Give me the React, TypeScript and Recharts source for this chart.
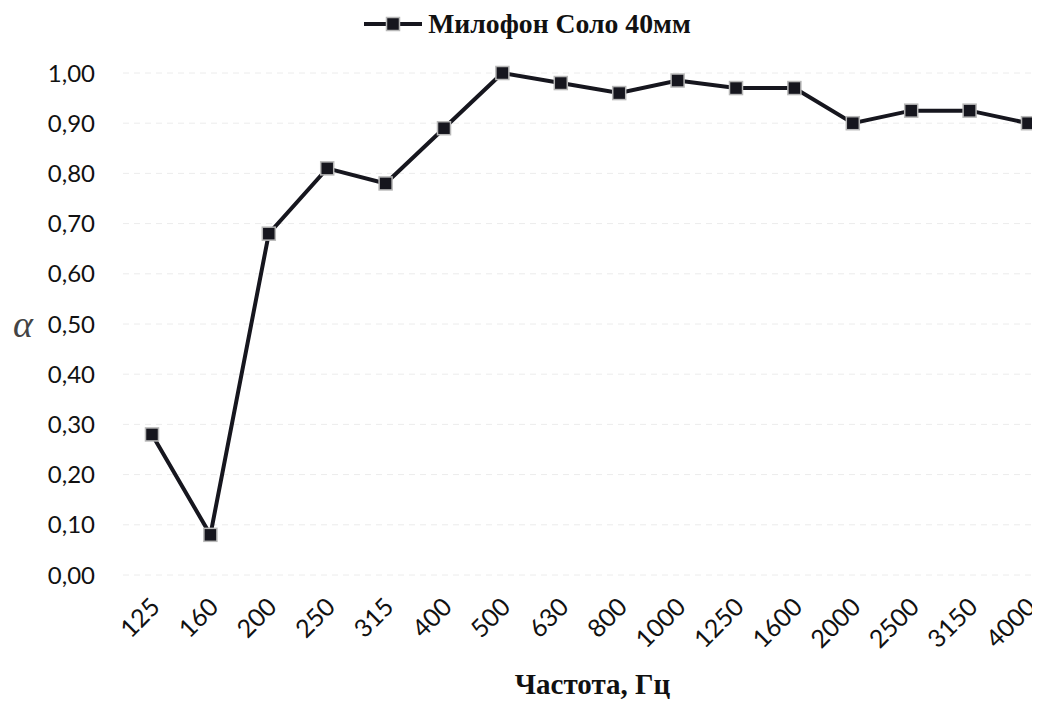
import { LineChart, Line, XAxis, YAxis, CartesianGrid, Legend } from "recharts";

const frequencies = ["125", "160", "200", "250", "315", "400", "500", "630", "800", "1000", "1250", "1600", "2000", "2500", "3150", "4000"];
const alphaValues = [0.28, 0.08, 0.68, 0.81, 0.78, 0.89, 1.0, 0.98, 0.96, 0.985, 0.97, 0.97, 0.9, 0.925, 0.925, 0.9];
const yTicks = [0, 0.1, 0.2, 0.3, 0.4, 0.5, 0.6, 0.7, 0.8, 0.9, 1.0];
const seriesName = "Милофон Соло 40мм";

const data = frequencies.map((f, i) => ({ freq: f, alpha: alphaValues[i] }));

const lineColor = "#16161e";
const serif = "'Liberation Serif', 'Times New Roman', serif";
const sans = "Lato, 'Open Sans', sans-serif";

const SquareDot = (props: any) => {
  const { cx, cy, index } = props;
  if (cx == null || cy == null) return null;
  return (
    <rect
      key={`dot-${index}`}
      x={cx - 6.5}
      y={cy - 6.5}
      width={13}
      height={13}
      fill={lineColor}
      stroke="#b8b8b8"
      strokeWidth={1.5}
    />
  );
};

const LegendBox = () => (
  <div style={{ height: 40, display: "flex", justifyContent: "center" }}>
    <div style={{ display: "flex", alignItems: "center", height: 32, marginLeft: 4 }}>
      <svg width={58} height={16} style={{ marginRight: 6 }}>
        <line x1={0} y1={8} x2={58} y2={8} stroke={lineColor} strokeWidth={4} />
        <rect x={22.5} y={1.5} width={13} height={13} fill={lineColor} stroke="#b8b8b8" strokeWidth={1.5} />
      </svg>
      <span style={{ fontFamily: serif, fontWeight: "bold", fontSize: 27.7, color: "#111", lineHeight: "32px" }}>{seriesName}</span>
    </div>
  </div>
);

export default function App() {
  return (
    <LineChart width={1032} height={693} data={data} margin={{ top: 25, right: 2, bottom: 0, left: 5 }}>
      <CartesianGrid vertical={false} stroke="#ececec" strokeDasharray="6 5" />
      <Legend verticalAlign="top" content={<LegendBox />} wrapperStyle={{ top: 0 }} />
      <XAxis
        dataKey="freq"
        axisLine={false}
        tickLine={false}
        tickSize={0}
        tickMargin={21}
        height={126}
        interval={0}
        angle={-45}
        textAnchor="end"
        padding={{ left: 29, right: 10 }}
        tick={{ fontFamily: sans, fontSize: 25, fill: "#111", dx: -3 }}
        label={{ value: "Частота, Гц", position: "insideBottom", offset: 7, dx: 12, style: { fontFamily: serif, fontWeight: "bold", fontSize: 29, fill: "#111" } }}
      />
      <YAxis
        domain={[0, 1]}
        ticks={yTicks}
        axisLine={false}
        tickLine={false}
        tickSize={0}
        tickMargin={28}
        width={110}
        tickFormatter={(v: number) => v.toFixed(2).replace(".", ",")}
        tick={{ fontFamily: sans, fontSize: 24, fill: "#111" }}
        label={{ value: "α", position: "insideLeft", offset: 0, style: { fontFamily: serif, fontStyle: "italic", fontSize: 38, fill: "#444" } }}
      />
      <Line
        type="linear"
        dataKey="alpha"
        name={seriesName}
        stroke={lineColor}
        strokeWidth={4}
        dot={<SquareDot />}
        activeDot={false}
        isAnimationActive={false}
      />
    </LineChart>
  );
}
